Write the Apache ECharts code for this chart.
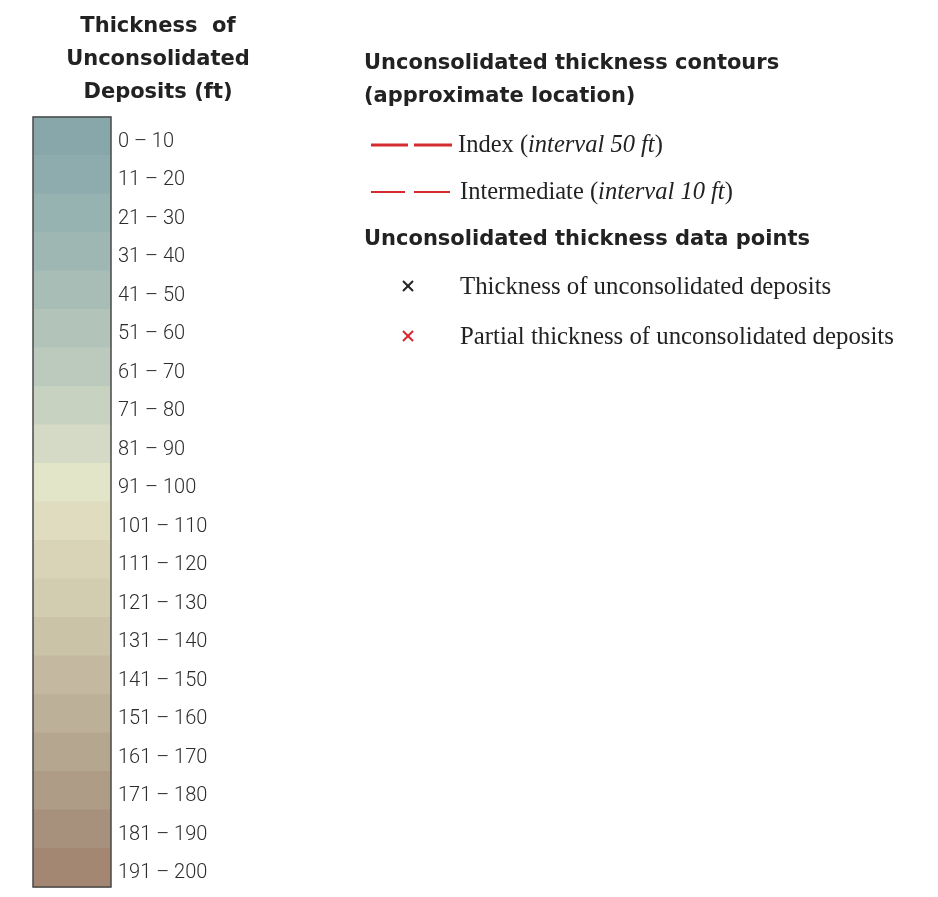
<!DOCTYPE html>
<html><head><meta charset="utf-8">
<script src="https://cdn.jsdelivr.net/npm/echarts@6/dist/echarts.min.js"></script>
<style>html,body{margin:0;padding:0;background:#fff}#c{width:938px;height:897px}</style>
</head><body><div id="c"></div>
<script>
// Thickness classes (ft) and their colours
const classLabels = ['0 – 10','11 – 20','21 – 30','31 – 40','41 – 50','51 – 60','61 – 70','71 – 80','81 – 90','91 – 100',
  '101 – 110','111 – 120','121 – 130','131 – 140','141 – 150','151 – 160','161 – 170','171 – 180','181 – 190','191 – 200'];
const classColors = ['#87a7aa','#8eacad','#96b2b1','#9eb7b3','#a7bdb6','#b2c4ba','#bccabd','#c8d2c1','#d4dac5','#e3e5c9',
  '#dfdcc0','#d9d4b8','#d2ccb0','#cbc3a8','#c4b9a0','#bdb098','#b5a68f','#ae9c86','#a7917c','#a48772'];
const classValues = classLabels.map(() => 1);

const contourItems = [
  {name: 'Index', note: 'interval 50 ft', width: 3},
  {name: 'Intermediate', note: 'interval 10 ft', width: 2}
];
const pointItems = [
  {name: 'Thickness of unconsolidated deposits', color: '#222'},
  {name: 'Partial thickness of unconsolidated deposits', color: '#d9262c'}
];

const sansBold = '"DejaVu Sans", "Open Sans", sans-serif';
const serif = '"Liberation Serif", "DejaVu Serif", serif';
const red = '#d42a30';

const graphics = [];
// Colour-bar title
graphics.push({type:'text', x: 158, y: 60, style:{
  text:'Thickness  of\nUnconsolidated\nDeposits (ft)', align:'center', verticalAlign:'middle',
  font:'bold 21px ' + sansBold, lineHeight: 33, fill:'#222'}});
// Right headings
graphics.push({type:'text', x: 364, y: 80.5, style:{text:'Unconsolidated thickness contours\n(approximate location)',
  verticalAlign:'middle', font:'bold 21px ' + sansBold, lineHeight: 33, fill:'#222'}});
graphics.push({type:'text', x: 364, y: 240, style:{text:'Unconsolidated thickness data points', verticalAlign:'middle',
  font:'bold 21px ' + sansBold, fill:'#222'}});
// Contour legend
const contourY = [145, 192];
contourItems.forEach((it, i) => {
  const y = contourY[i];
  const segs = i === 0 ? [[371,408],[414,452]] : [[371,405],[414,450]];
  segs.forEach(s => graphics.push({type:'line', shape:{x1:s[0], y1:y, x2:s[1], y2:y},
    style:{stroke: red, lineWidth: it.width}}));
  graphics.push({type:'text', x: i === 0 ? 458 : 460, y: y + 1, style:{
    text: '{r|' + it.name + ' (}{i|' + it.note + '}{r|)}', verticalAlign:'middle',
    rich:{ r:{font:'24.5px ' + serif, fill:'#222'}, i:{font:'italic 24.5px ' + serif, fill:'#222'} }}});
});
// Data-point legend
const pointY = [286, 336];
pointItems.forEach((it, i) => {
  const y = pointY[i], cx = 408, h = 5;
  graphics.push({type:'line', shape:{x1:cx-h, y1:y-h, x2:cx+h, y2:y+h}, style:{stroke: it.color, lineWidth: 2}});
  graphics.push({type:'line', shape:{x1:cx-h, y1:y+h, x2:cx+h, y2:y-h}, style:{stroke: it.color, lineWidth: 2}});
  graphics.push({type:'text', x: 460, y: y + 1, style:{text: it.name, verticalAlign:'middle',
    font:'24.8px ' + serif, fill:'#222'}});
});

const chart = echarts.init(document.getElementById('c'), null, {renderer:'canvas'});
chart.setOption({
  animation: false,
  backgroundColor: '#fff',
  grid: {left: 33, top: 117, width: 78, height: 770, show: true, borderColor: '#4a4a4a', borderWidth: 1.5, backgroundColor:'transparent', z: 5},
  xAxis: {type:'value', min: 0, max: 1, show: false},
  yAxis: {type:'category', data: classLabels, inverse: true, position:'right',
    axisLine:{show:false}, axisTick:{show:false}, splitLine:{show:false},
    axisLabel:{margin: 7, verticalAlign:'top', lineHeight: 11, fontFamily:'Roboto, sans-serif', fontSize: 20, color:'#2c2c2c', fontWeight: 300}},
  series: [{type:'custom', silent: true, z: 1,
    data: classValues.map((v, i) => [v, i]),
    encode: {x: 0, y: 1},
    renderItem: function (params, api) {
      const idx = api.value(1);
      const c = api.coord([0, idx]);
      const c1 = api.coord([api.value(0), idx]);
      const sz = api.size([0, 1]);
      return {type:'rect', shape:{x: c[0], y: c[1] - sz[1] / 2 - 0.5, width: c1[0] - c[0], height: sz[1] + 1},
        style:{fill: classColors[params.dataIndex]}};
    }}],
  graphic: graphics
});
</script></body></html>
